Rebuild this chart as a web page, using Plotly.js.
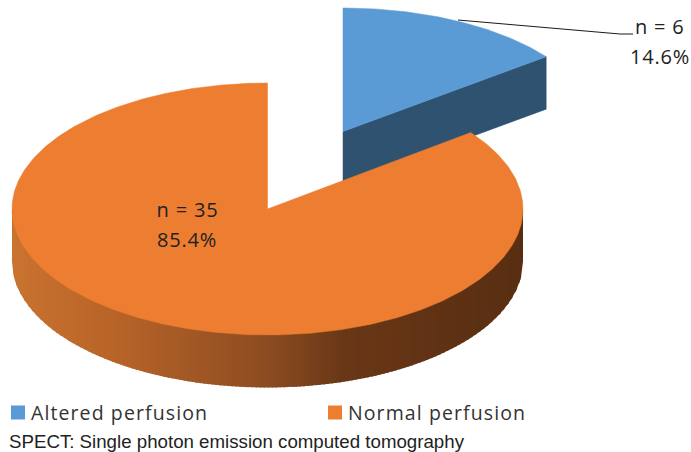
<!DOCTYPE html>
<html>
<head>
<meta charset="utf-8">
<script src="https://cdn.plot.ly/plotly-3.0.1.min.js"></script>
<style>
html,body{margin:0;padding:0;background:#fff}#c{width:691px;height:452px}
.legendtext{letter-spacing:1.1px}
.annotation:not([data-index="4"]) text{letter-spacing:.8px}
</style>
</head>
<body>
<div id="c"></div>
<script>
const categories = ["Altered perfusion", "Normal perfusion"];
const counts = [6, 35];
const percentLabels = ["14.6%", "85.4%"];
const countLabels = ["n = 6", "n = 35"];
const topColors = ["#5b9bd5", "#ed7d31"];
const cutFaceColor = "#2e5270";
const footnote = "SPECT: Single photon emission computed tomography";
const leaderX = [458, 620, 633];
const leaderY = [20, 34, 34];
const rimStops = [[0, [201,115,48]], [0.2, [184,100,40]], [0.5, [140,76,33]], [0.65, [105,55,22]], [1, [88,46,18]]];

const RX = 255.5, DEPTH = 52.5;
const radiiY = [123.5, 126];
const centers = [[343, 131.5], [267.5, 209]];
const total = counts.reduce((a, b) => a + b, 0);
const sweep = counts[0] / total * 2 * Math.PI;
const px = (c, a) => c[0] + RX * Math.sin(a);
const py = (c, ry, a, dy = 0) => c[1] - ry * Math.cos(a) + dy;

function poly(xs, ys, color, w) {
  return {x: xs, y: ys, mode: "lines", fill: "toself", fillcolor: color, hoverinfo: "skip",
          line: {color: color, width: w}, showlegend: false};
}
function wedge(c, ry, a0, a1, color) {
  const xs = [c[0]], ys = [c[1]], n = Math.ceil((a1 - a0) * 80);
  for (let i = 0; i <= n; i++) {
    const a = a0 + (a1 - a0) * i / n;
    xs.push(px(c, a)); ys.push(py(c, ry, a));
  }
  xs.push(c[0]); ys.push(c[1]);
  return poly(xs, ys, color, 0.5);
}
function rimColor(t) {
  for (let i = 1; i < rimStops.length; i++) {
    if (t <= rimStops[i][0]) {
      const [t0, c0] = rimStops[i - 1], [t1, c1] = rimStops[i];
      const f = (t - t0) / (t1 - t0);
      return "rgb(" + c0.map((v, k) => Math.round(v + (c1[k] - v) * f)).join(",") + ")";
    }
  }
  return "rgb(" + rimStops[rimStops.length - 1][1].join(",") + ")";
}

const traces = [];
const c0 = centers[0];
traces.push(poly([c0[0], px(c0, sweep), px(c0, sweep), c0[0], c0[0]],
                 [c0[1], py(c0, radiiY[0], sweep), py(c0, radiiY[0], sweep, DEPTH), c0[1] + DEPTH, c0[1]], cutFaceColor, 0.5));
traces.push(wedge(c0, radiiY[0], 0, sweep, topColors[0]));

// orange rim: left-to-right strips, each overlapped by the next
const c1 = centers[1];
const strips = 128;
const edge = x => c1[1] + radiiY[1] * Math.sqrt(Math.max(0, 1 - ((x - c1[0]) / RX) ** 2));
for (let i = 0; i < strips; i++) {
  const xa = c1[0] - RX + 2 * RX * i / strips;
  const xb = Math.min(c1[0] + RX, xa + 2 * RX / strips + 1.5);
  const xs = [], ys = [];
  for (let k = 0; k <= 4; k++) { const x = xa + (xb - xa) * k / 4; xs.push(x); ys.push(edge(x) + DEPTH); }
  traces.push(poly([xa, xb, ...xs.reverse(), xa], [edge(xa) - 3, edge(xb) - 3, ...ys.reverse(), edge(xa) - 3],
                   rimColor((i + 0.5) / strips), 0));
}
traces.push(wedge(c1, radiiY[1], sweep, 2 * Math.PI, topColors[1]));

traces.push({x: leaderX, y: leaderY, mode: "lines", line: {color: "#1a1a1a", width: 1}, hoverinfo: "skip", showlegend: false});

categories.forEach((name, i) => traces.push({
  x: [null], y: [null], mode: "markers", name: name,
  marker: {symbol: "square", size: 14, color: topColors[i]}
}));

const labelFont = {family: "Open Sans, sans-serif", size: 20, color: "#222222"};
const note = (x, y, text, font) => ({x, y, text, xref: "x", yref: "y", showarrow: false, font, xanchor: "center", yanchor: "middle"});
const layout = {
  width: 691, height: 452,
  margin: {l: 0, r: 0, t: 0, b: 0, autoexpand: false},
  paper_bgcolor: "#fff", plot_bgcolor: "#fff",
  xaxis: {range: [0, 691], visible: false, fixedrange: true},
  yaxis: {range: [452, 0], visible: false, fixedrange: true},
  legend: {orientation: "h", x: 0, xanchor: "left", y: 0.13, yanchor: "top",
           font: {family: "Open Sans, sans-serif", size: 19.5, color: "#333333"},
           entrywidth: 272, entrywidthmode: "pixels", itemclick: false, itemdoubleclick: false,
           bgcolor: "rgba(0,0,0,0)"},
  annotations: [
    note(660, 26, countLabels[0], labelFont),
    note(660, 56, percentLabels[0], labelFont),
    note(187, 209, countLabels[1], labelFont),
    note(187, 239, percentLabels[1], labelFont),
    {x: 7, y: 441, xref: "x", yref: "y", text: footnote, showarrow: false, xanchor: "left", yanchor: "middle",
     font: {family: "Liberation Sans, Arial, sans-serif", size: 18.7, color: "#222222"}}
  ]
};
Plotly.newPlot("c", traces, layout, {displayModeBar: false, staticPlot: true}).then(() => {
  document.querySelectorAll(".legendtext").forEach(t => t.setAttribute("x", 33));
  const lg = document.querySelector(".legend");
  const m = /translate\(([-\d.]+),\s*([-\d.]+)\)/.exec(lg.getAttribute("transform"));
  if (m) lg.setAttribute("transform", "translate(" + (parseFloat(m[1]) - 2) + "," + m[2] + ")");
});
</script>
</body>
</html>
